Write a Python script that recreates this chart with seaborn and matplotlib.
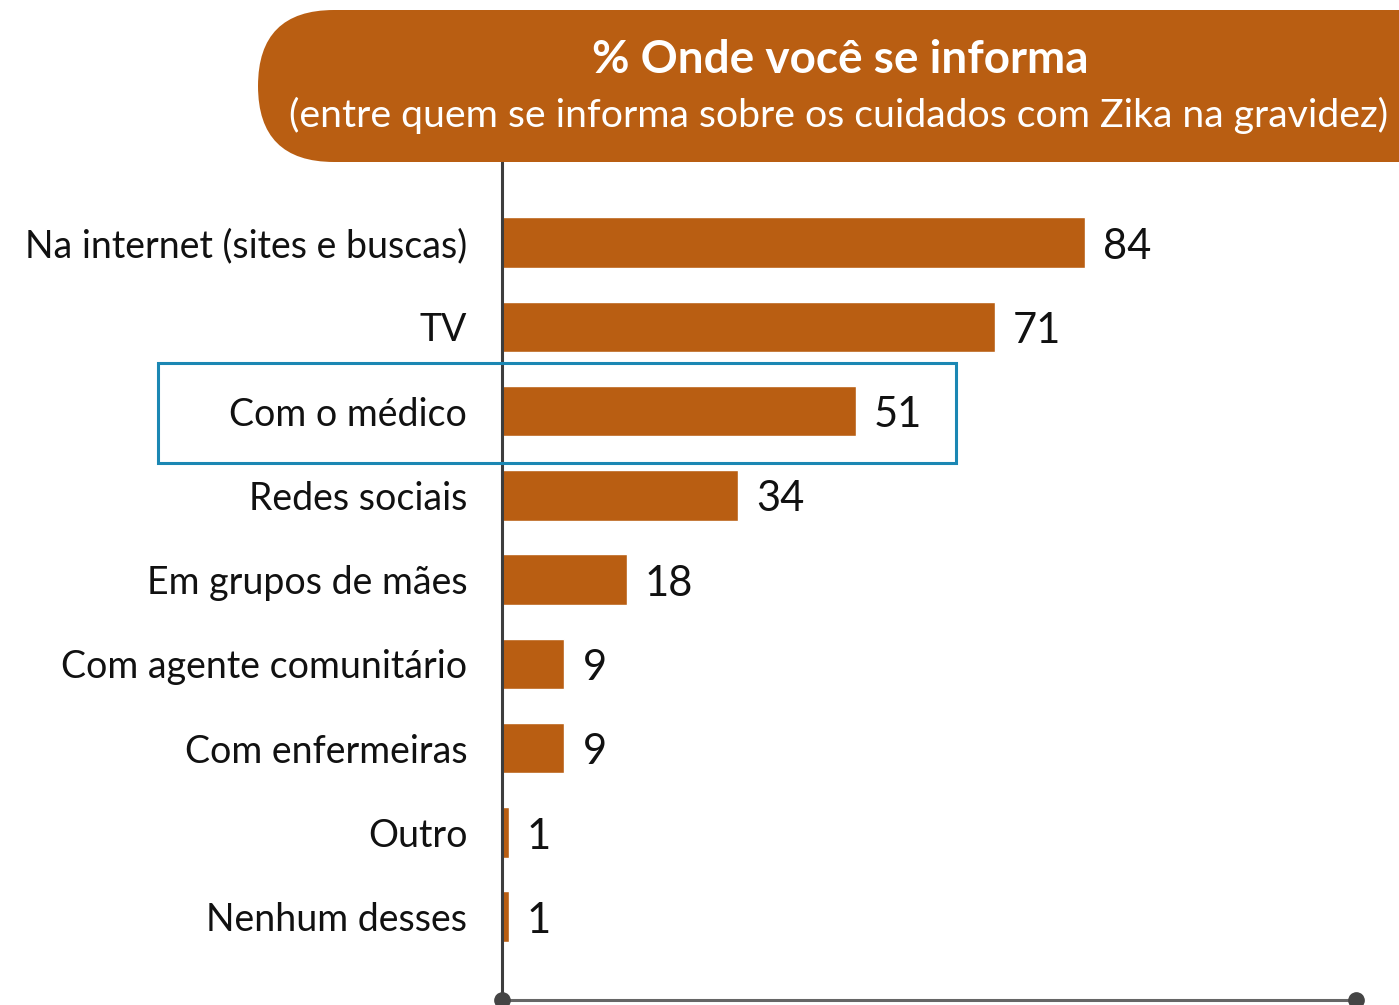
import matplotlib
matplotlib.use("Agg")
import matplotlib.pyplot as plt
import seaborn as sns
import pandas as pd
from matplotlib.patches import FancyBboxPatch, Rectangle
from matplotlib.transforms import IdentityTransform

# Survey data: where people look for information on Zika care during pregnancy (%)
categories = [
    "Na internet (sites e buscas)",
    "TV",
    "Com o médico",
    "Redes sociais",
    "Em grupos de mães",
    "Com agente comunitário",
    "Com enfermeiras",
    "Outro",
    "Nenhum desses",
]
values = [84, 71, 51, 34, 18, 9, 9, 1, 1]
highlight = "Com o médico"

title = "% Onde você se informa"
subtitle = "(entre quem se informa sobre os cuidados com Zika na gravidez)"

ORANGE = "#B95E12"
BLUE = "#1B87B3"

sns.set_theme(style="white")
plt.rcParams['font.family'] = ['Lato', 'DejaVu Sans']

W, H = 1399, 1005
fig = plt.figure(figsize=(W / 100, H / 100), dpi=100)
ax = fig.add_axes([502 / W, (H - 1000) / H, (1356 - 502) / W, (1000 - 160) / H])

df = pd.DataFrame({"fonte": categories, "pct": values})
sns.barplot(data=df, x="pct", y="fonte", orient="h", color=ORANGE,
            width=0.6, saturation=1, ax=ax)

xmax = 123
ax.set_xlim(0, xmax)
ax.set_ylim(8.99, -0.98)
ax.set_xlabel("")
ax.set_ylabel("")
ax.set_xticks([])
ax.tick_params(axis="y", length=0, pad=25, labelsize=27, labelcolor="#111111")

for side in ("top", "right"):
    ax.spines[side].set_visible(False)
ax.spines["left"].set_color("#3d3d3d")
ax.spines["left"].set_linewidth(2.2)
ax.spines["bottom"].set_color("#666666")
ax.spines["bottom"].set_linewidth(2.2)

# round end caps on the baseline
ax.plot([0, xmax], [8.99, 8.99], "o", color="#444444", markersize=11,
        clip_on=False, zorder=5)

# value labels
for i, v in enumerate(values):
    ax.annotate(str(v), xy=(v, i), xytext=(13, -3), textcoords="offset points",
                va="center", ha="left", fontsize=30, color="#111111")

# highlight frame around one category
idx = categories.index(highlight)
frame = Rectangle((158, H - 463), 798, 100, transform=IdentityTransform(),
                  fill=False, edgecolor=BLUE, linewidth=2.2, zorder=10)
fig.patches.append(frame)

# pill-shaped header
pill = FancyBboxPatch((258, H - 162), 1300, 152,
                      boxstyle="round,pad=0,rounding_size=76",
                      transform=IdentityTransform(), facecolor=ORANGE,
                      edgecolor="none", zorder=20)
fig.patches.append(pill)
fig.text(840 / W, 1 - 60 / H, title, ha="center", va="center",
         fontsize=33, fontweight="bold", color="white", zorder=21)
fig.text(839 / W, 1 - 115 / H, subtitle, ha="center", va="center",
         fontsize=28.3, color="white", zorder=21)

fig.savefig("out.png", dpi=100)
